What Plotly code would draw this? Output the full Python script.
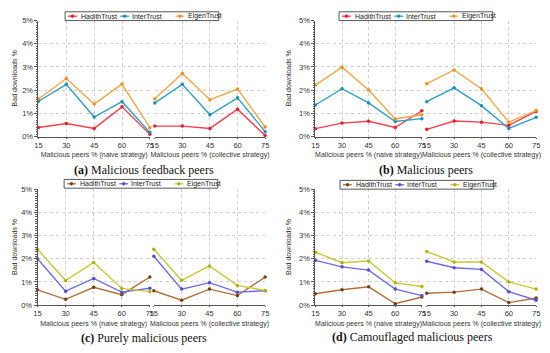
import plotly.graph_objects as go

# ---------------- data ----------------
x_peers = [15, 30, 45, 60, 75]
series_names = ["HadithTrust", "InterTrust", "EigenTrust"]

# (a) Malicious feedback peers
a_naive_hadith = [0.39, 0.56, 0.35, 1.28, 0.10]
a_naive_inter = [1.52, 2.25, 0.84, 1.50, 0.18]
a_naive_eigen = [1.62, 2.50, 1.40, 2.26, 0.38]
a_coll_hadith = [0.45, 0.45, 0.35, 1.18, 0.04]
a_coll_inter = [1.45, 2.25, 0.94, 1.67, 0.21]
a_coll_eigen = [1.63, 2.72, 1.59, 2.05, 0.41]

# (b) Malicious peers
b_naive_hadith = [0.34, 0.58, 0.66, 0.39, 1.11]
b_naive_inter = [1.36, 2.06, 1.45, 0.65, 0.77]
b_naive_eigen = [2.22, 2.99, 2.01, 0.76, 0.94]
b_coll_hadith = [0.31, 0.67, 0.62, 0.48, 1.08]
b_coll_inter = [1.50, 2.10, 1.33, 0.35, 0.83]
b_coll_eigen = [2.28, 2.87, 2.06, 0.62, 1.12]

# (c) Purely malicious peers
c_naive_hadith = [0.66, 0.25, 0.77, 0.45, 1.21]
c_naive_inter = [2.00, 0.60, 1.15, 0.56, 0.73]
c_naive_eigen = [2.41, 1.06, 1.84, 0.72, 0.58]
c_coll_hadith = [0.62, 0.21, 0.69, 0.41, 1.21]
c_coll_inter = [2.11, 0.69, 0.97, 0.56, 0.62]
c_coll_eigen = [2.41, 1.07, 1.69, 0.85, 0.63]

# (d) Camouflaged malicious peers
d_naive_hadith = [0.49, 0.66, 0.79, 0.06, 0.35]
d_naive_inter = [1.93, 1.65, 1.51, 0.69, 0.41]
d_naive_eigen = [2.28, 1.83, 1.90, 0.96, 0.80]
d_coll_hadith = [0.51, 0.56, 0.69, 0.11, 0.31]
d_coll_inter = [1.89, 1.61, 1.54, 0.58, 0.21]
d_coll_eigen = [2.31, 1.86, 1.86, 1.00, 0.69]

captions = ["<b>(a)</b> Malicious feedback peers", "<b>(b)</b> Malicious peers",
            "<b>(c)</b> Purely malicious peers", "<b>(d)</b> Camouflaged malicious peers"]
x_titles = ["Malicious peers % (naive strategy)", "Malicious peers % (collective strategy)"]
y_title = "Bad downloads %"

# ---------------- styling ----------------
W, H = 550, 353
def fx(px): return px / W
def fy(py): return 1 - py / H

pal1 = [("#f2404e", "#e8202c"), ("#2b9fc6", "#1f90b8"), ("#f6a545", "#f09020")]
pal2 = [("#b0703c", "#7a3e12"), ("#6c6ce6", "#5050d0"), ("#c9c935", "#b0b010")]

panels = [
    dict(naive=[a_naive_hadith, a_naive_inter, a_naive_eigen], coll=[a_coll_hadith, a_coll_inter, a_coll_eigen],
         xl=(35, 148), xr=(153, 265), y=(136, 17), pal=pal1, cap=(142, 170), yt=11, leg=(62, 12.5)),
    dict(naive=[b_naive_hadith, b_naive_inter, b_naive_eigen], coll=[b_coll_hadith, b_coll_inter, b_coll_eigen],
         xl=(316, 424), xr=(429, 540), y=(136, 17), pal=pal1, cap=(428, 170), yt=289, leg=(340, 12.5)),
    dict(naive=[c_naive_hadith, c_naive_inter, c_naive_eigen], coll=[c_coll_hadith, c_coll_inter, c_coll_eigen],
         xl=(34, 148), xr=(152, 265), y=(309, 190), pal=pal2, cap=(142, 343), yt=10, leg=(61, 184.5)),
    dict(naive=[d_naive_hadith, d_naive_inter, d_naive_eigen], coll=[d_coll_hadith, d_coll_inter, d_coll_eigen],
         xl=(316, 424), xr=(429, 540), y=(309, 190), pal=pal2, cap=(415, 342), yt=288, leg=(341, 185.5)),
]

FONT = "Liberation Sans, Arial, sans-serif"
GRID = "#cfcfcf"
AX = "#555555"

fig = go.Figure()
layout = dict(width=W, height=H, margin=dict(l=0, r=0, t=0, b=0), paper_bgcolor="white",
              plot_bgcolor="white", showlegend=False, font=dict(family=FONT, size=7, color="#333"))
shapes, annotations = [], []

k = 0
for pi, p in enumerate(panels):
    for side, (dom, sets) in enumerate([(p["xl"], p["naive"]), (p["xr"], p["coll"])]):
        k += 1
        xa = "x" if k == 1 else f"x{k}"
        ya = "y" if k == 1 else f"y{k}"
        xkey = "xaxis" if k == 1 else f"xaxis{k}"
        ykey = "yaxis" if k == 1 else f"yaxis{k}"
        for i, vals in enumerate(sets):
            lc, mc = p["pal"][i]
            fig.add_trace(go.Scatter(x=x_peers, y=vals, mode="lines+markers", name=series_names[i],
                                     xaxis=xa, yaxis=ya, cliponaxis=False,
                                     line=dict(color=lc, width=1.4),
                                     marker=dict(color=mc, size=3.5)))
        layout[xkey] = dict(domain=[fx(dom[0]), fx(dom[1])], range=[15, 75], tickvals=x_peers,
                            anchor=ya, showgrid=True, gridcolor=GRID, griddash="dot", gridwidth=1,
                            zeroline=False, showline=True, linecolor=AX, linewidth=1,
                            ticks="outside", ticklen=1, tickcolor=AX,
                            tickfont=dict(size=7.5, color="#333"),
                            title=dict(text=x_titles[side], font=dict(size=7, color="#333"), standoff=3))
        yd = dict(domain=[fy(p["y"][0]), fy(p["y"][1])], range=[0, 5], dtick=1, ticksuffix="%",
                  anchor=xa, showgrid=True, gridcolor=GRID, griddash="dot", gridwidth=1, zeroline=False)
        if side == 0:
            yd.update(showline=True, linecolor=AX, linewidth=1, ticks="outside", ticklen=3, tickcolor=AX,
                      tickfont=dict(size=7.5, color="#333"),
                      minor=dict(dtick=0.1, ticks="outside", ticklen=1.5, tickcolor=AX, showgrid=False))
        else:
            yd.update(showline=False, showticklabels=False, ticks="")
        layout[ykey] = yd

    # y-axis title
    annotations.append(dict(text=y_title, x=fx(p["yt"]), y=fy((p["y"][0] + p["y"][1]) / 2),
                            xref="paper", yref="paper", textangle=-90, showarrow=False,
                            font=dict(size=7, color="#333"), xanchor="center", yanchor="middle"))
    # caption
    annotations.append(dict(text=captions[pi], x=fx(p["cap"][0]), y=fy(p["cap"][1]),
                            xref="paper", yref="paper", showarrow=False,
                            font=dict(size=12, color="#111", family="Liberation Serif, Times New Roman, serif"),
                            xanchor="center", yanchor="middle"))
    # legend box (manual)
    L, cy = p["leg"]
    shapes.append(dict(type="rect", xref="paper", yref="paper", x0=fx(L), x1=fx(L + 156),
                       y0=fy(cy + 4.5), y1=fy(cy - 4.5), line=dict(color="#444", width=0.9),
                       fillcolor="white", layer="above"))
    offs = [(3, 14), (56, 66), (112, 123)]
    for i, (so, to) in enumerate(offs):
        lc, mc = p["pal"][i]
        shapes.append(dict(type="line", xref="paper", yref="paper", x0=fx(L + so), x1=fx(L + so + 9),
                           y0=fy(cy), y1=fy(cy), line=dict(color=lc, width=1.3), layer="above"))
        shapes.append(dict(type="circle", xref="paper", yref="paper", x0=fx(L + so + 3), x1=fx(L + so + 6),
                           y0=fy(cy + 1.5), y1=fy(cy - 1.5), line=dict(color=mc, width=0.5),
                           fillcolor=mc, layer="above"))
        annotations.append(dict(text=series_names[i], x=fx(L + to), y=fy(cy), xref="paper", yref="paper",
                                showarrow=False, xanchor="left", yanchor="middle",
                                font=dict(size=7, color="#222")))

layout["shapes"] = shapes
layout["annotations"] = annotations
fig.update_layout(**layout)
fig.write_html("out.html", config={"displayModeBar": False},
               post_script="document.body.style.margin='0';document.body.style.padding='0';"
                           "document.body.style.overflow='hidden';")
